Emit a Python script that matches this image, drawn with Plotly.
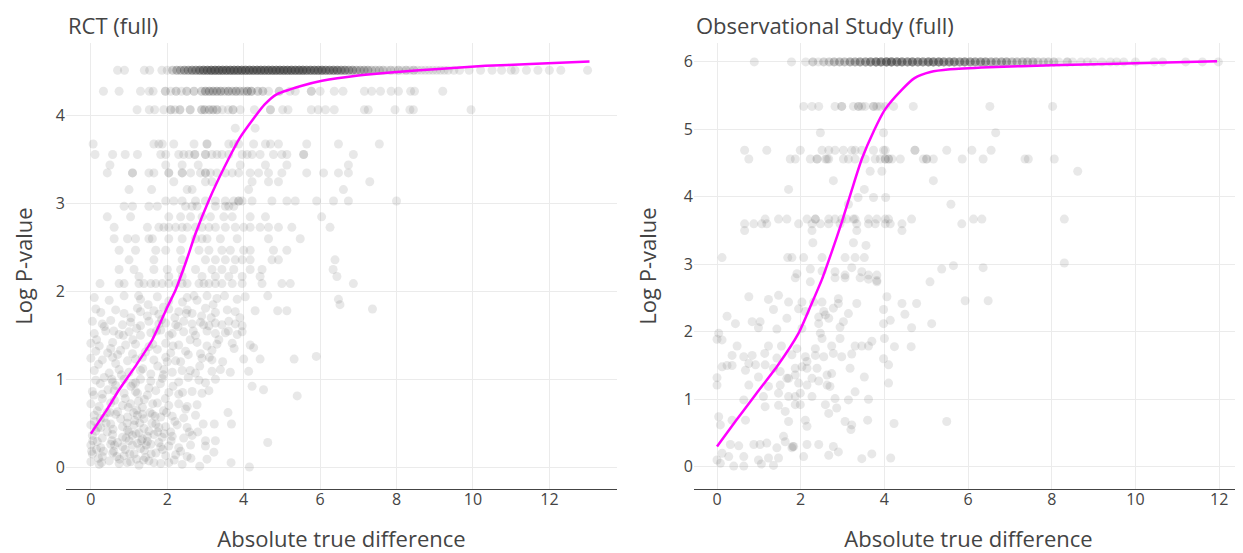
import numpy as np
import plotly.graph_objects as go

# ---------------- RCT (full) ----------------
# discrete top levels: x positions with multiplicities
rct_lvl1_y = 4.52
rct_lvl1_x = [0.70, 0.88, 1.40, 1.54, 1.86, 2.00, 2.14, 2.25, 2.35, 2.45, 2.55, 2.65, 2.75, 2.85, 2.95,
              3.05, 3.15, 3.25, 3.35, 3.45, 3.55, 3.65, 3.75, 3.85, 3.95, 4.05, 4.15, 4.25, 4.35, 4.45,
              4.55, 4.65, 4.75, 4.85, 4.95, 5.05, 5.15, 5.25, 5.35, 5.45, 5.55, 5.65, 5.75, 5.85, 5.95,
              6.05, 6.15, 6.25, 6.35, 6.45, 6.55, 6.65, 6.75, 6.85, 6.95, 7.05, 7.15, 7.25, 7.35, 7.45,
              7.55, 7.65, 7.75, 7.85, 7.95, 8.05, 8.15, 8.25, 8.35, 8.45, 8.55, 8.65, 8.75, 8.85, 8.95,
              9.05, 9.15, 9.25, 9.35, 9.50, 9.65, 9.90, 10.20, 10.50, 10.75, 11.00, 11.10, 11.40, 11.70,
              12.00, 12.30, 13.00]
rct_lvl1_n = [1, 1, 1, 1, 1, 1, 2, 3, 3, 4, 4, 5, 5, 6, 7,
              7, 8, 8, 8, 8, 8, 8, 8, 8, 8, 8, 8, 8, 8, 8,
              8, 8, 8, 8, 8, 8, 8, 8, 8, 8, 8, 7, 7, 7, 7,
              7, 6, 6, 6, 6, 5, 5, 4, 4, 3, 3, 3, 3, 2, 2,
              2, 2, 1, 2, 1, 2, 1, 2, 1, 2, 1, 1, 1, 1, 1,
              1, 1, 1, 1, 1, 1, 1, 1, 1, 1, 1, 1, 1, 1,
              1, 1, 1]

rct_lvl2_y = 4.28
rct_lvl2_x = [0.33, 0.74, 1.30, 1.53, 1.63, 1.95, 2.09, 2.23, 2.37, 2.51, 2.70, 2.90, 3.00, 3.10, 3.20,
              3.30, 3.40, 3.50, 3.60, 3.70, 3.80, 3.90, 4.00, 4.10, 4.20, 4.37, 4.50, 4.65, 4.93, 5.21,
              5.35, 5.77, 6.00, 6.37, 6.60, 7.16, 7.35, 7.58, 7.86, 8.05, 8.37, 8.47, 9.21]
rct_lvl2_n = [1, 1, 1, 1, 1, 2, 1, 2, 1, 2, 2, 2, 3, 3, 3,
              3, 3, 2, 3, 2, 3, 2, 2, 3, 3, 2, 2, 1, 2, 1,
              1, 2, 1, 1, 1, 1, 1, 1, 1, 1, 1, 1, 1]

rct_lvl3_y = 4.07
rct_lvl3_x = [1.21, 1.53, 1.67, 1.91, 2.09, 2.20, 2.33, 2.60, 2.90, 2.98, 3.10, 3.20, 3.30, 3.44, 3.60,
              3.72, 3.91, 4.28, 4.70, 5.02, 5.16, 5.77, 5.95, 6.14, 6.37, 7.16, 7.26, 7.96, 8.35, 8.44, 9.95]
rct_lvl3_n = [1, 1, 1, 1, 2, 1, 2, 2, 2, 2, 2, 2, 2, 1, 1,
              2, 1, 1, 2, 1, 1, 1, 1, 1, 1, 1, 1, 1, 1, 1, 1]

# middle rows: (y, [x ...])
rct_mid_rows = [
    (3.86, [3.78, 4.30]),
    (3.68, [0.06, 1.65, 1.78, 1.87, 2.17, 2.70, 3.04, 3.04, 3.61, 3.74, 3.87, 4.26, 4.57, 4.70, 4.91, 5.65, 6.48, 7.55]),
    (3.56, [0.11, 0.57, 0.90, 1.22, 1.83, 1.96, 2.30, 2.43, 2.57, 2.72, 2.72, 3.00, 3.00, 3.17, 3.30, 3.43, 3.61,
            3.96, 4.09, 4.22, 4.43, 4.78, 5.00, 5.13, 5.57, 5.57, 6.87]),
    (3.44, [0.50, 1.96, 2.39, 2.81, 3.91, 4.57, 5.13, 6.74]),
    (3.35, [0.43, 1.09, 1.09, 1.52, 1.65, 2.04, 2.04, 2.39, 2.39, 2.61, 2.87, 3.00, 3.00, 3.13, 3.30, 3.52, 3.70,
            3.87, 4.17, 4.39, 4.65, 5.00, 5.65, 6.09, 6.48, 6.74]),
    (3.25, [2.17, 3.00, 3.17, 4.22, 4.65, 4.91, 7.30]),
    (3.16, [1.00, 1.59, 2.52, 2.65, 4.13, 6.61]),
    (3.03, [1.96, 2.17, 2.39, 2.74, 3.00, 3.26, 3.52, 3.74, 3.87, 3.87, 3.96, 4.22, 4.74, 5.13, 5.35, 5.91, 6.35,
            6.74, 8.00]),
    (2.97, [0.87, 1.09, 1.52, 1.74, 2.48, 2.65, 2.78, 3.26, 3.52, 3.61, 3.74]),
    (2.85, [0.43, 1.04, 2.04, 2.35, 2.61, 2.91, 3.13, 3.48, 3.70, 4.17, 4.57, 6.04]),
    (2.73, [0.61, 1.48, 1.78, 1.91, 2.04, 2.22, 2.39, 2.52, 2.74, 2.91, 3.09, 3.26, 3.52, 3.78, 4.00, 4.17, 4.43,
            4.65, 4.91, 5.26, 6.26]),
    (2.60, [0.61, 0.96, 1.17, 1.52, 1.61, 2.04, 2.39, 2.74, 2.91, 3.04, 3.39, 3.83, 4.65, 5.48]),
    (2.47, [0.74, 1.17, 1.70, 1.96, 2.35, 2.83, 3.09, 3.43, 3.65, 4.00, 4.17, 4.78, 5.13]),
    (2.36, [1.00, 1.65, 2.39, 3.00, 3.26, 3.52, 3.78, 3.96, 4.17, 4.74, 4.91, 6.39]),
    (2.25, [0.74, 1.13, 1.65, 2.00, 2.35, 2.74, 3.17, 3.43, 3.74, 4.17, 4.48, 6.34]),
    (2.17, [1.26, 2.04, 2.39, 2.91, 3.26, 3.61, 3.96, 4.43, 6.44]),
    (2.09, [0.24, 0.74, 0.87, 1.26, 1.39, 1.57, 1.70, 1.87, 2.04, 2.22, 2.39, 2.52, 2.83, 2.96, 3.09, 3.26, 3.43,
            3.70, 3.96, 4.48, 5.00, 5.22, 6.87]),
]

# lower cluster: individual (x, y) observations
rct_low = [
    (0.09, 1.93), (0.48, 1.90), (0.87, 1.95), (1.30, 1.91), (1.74, 1.94), (2.04, 1.89), (2.52, 1.93), (2.78, 1.90),
    (3.04, 1.95), (3.30, 1.92), (3.83, 1.91), (4.04, 1.94), (4.63, 1.95), (6.48, 1.91), (6.52, 1.85),
    (0.13, 1.80), (0.26, 1.76), (0.65, 1.79), (0.87, 1.75), (1.22, 1.81), (1.30, 1.77), (1.65, 1.78), (1.78, 1.74),
    (2.04, 1.80), (2.30, 1.77), (2.52, 1.79), (2.65, 1.75), (3.00, 1.81), (3.26, 1.76), (3.57, 1.79), (3.78, 1.77),
    (4.30, 1.78), (4.89, 1.78), (5.13, 1.78), (7.37, 1.80),
    (0.04, 1.66), (0.30, 1.63), (0.52, 1.67), (0.83, 1.62), (1.04, 1.65), (1.30, 1.61), (1.52, 1.66), (1.78, 1.63),
    (1.96, 1.64), (2.22, 1.62), (2.43, 1.66), (2.65, 1.63), (2.87, 1.65), (3.09, 1.61), (3.26, 1.64), (3.43, 1.62),
    (3.61, 1.66), (3.78, 1.63), (3.96, 1.61),
    (0.09, 1.52), (0.39, 1.55), (0.74, 1.51), (1.00, 1.54), (1.30, 1.50), (1.57, 1.53), (1.83, 1.56), (2.13, 1.52),
    (2.43, 1.54), (2.74, 1.50), (3.04, 1.55), (3.26, 1.52), (3.52, 1.53), (3.83, 1.51), (3.96, 1.54),
    (0.00, 1.41), (0.22, 1.38), (0.57, 1.42), (0.91, 1.39), (1.17, 1.40), (1.52, 1.37), (1.96, 1.41), (2.30, 1.39),
    (2.78, 1.42), (3.04, 1.38), (3.30, 1.40), (3.70, 1.41), (4.17, 1.39), (4.26, 1.36),
    (0.13, 1.32), (0.44, 1.30), (0.78, 1.33), (1.09, 1.29), (1.43, 1.31), (1.74, 1.34), (2.09, 1.30), (2.48, 1.32),
    (2.87, 1.29), (3.17, 1.33),
    (0.00, 1.24), (0.30, 1.22), (0.57, 1.25), (0.96, 1.21), (1.17, 1.23), (1.65, 1.22), (1.96, 1.25), (2.22, 1.21),
    (2.91, 1.24), (3.17, 1.22), (4.00, 1.23), (4.43, 1.23), (5.32, 1.23), (5.90, 1.26),
    (0.09, 1.10), (0.48, 1.07), (0.74, 1.11), (1.00, 1.08), (1.30, 1.10), (1.57, 1.06), (1.91, 1.11), (2.13, 1.08),
    (2.39, 1.10), (2.74, 1.07), (3.17, 1.09), (3.39, 1.11), (3.65, 1.08), (4.13, 1.09),
    (0.13, 0.99), (0.57, 0.97), (0.87, 1.00), (1.17, 0.96), (1.57, 0.98), (1.87, 1.01), (2.30, 0.97), (2.83, 0.99),
    (3.00, 0.96), (3.26, 1.00), (4.22, 0.92), (4.52, 0.88),
    (0.04, 0.86), (0.30, 0.83), (0.61, 0.87), (0.87, 0.84), (1.17, 0.86), (1.48, 0.82), (1.70, 0.87), (2.04, 0.85),
    (2.30, 0.83), (2.65, 0.86), (2.91, 0.84), (3.09, 0.87), (5.40, 0.81),
    (0.00, 0.72), (0.22, 0.69), (0.52, 0.73), (0.83, 0.70), (1.04, 0.72), (1.35, 0.68), (1.74, 0.73), (2.04, 0.70),
    (2.30, 0.72), (2.52, 0.69), (2.78, 0.71),
    (0.17, 0.64), (0.70, 0.63), (1.20, 0.65), (1.55, 0.62), (1.90, 0.64),
    (0.09, 0.59), (0.35, 0.56), (0.65, 0.60), (0.96, 0.57), (1.22, 0.59), (1.39, 0.55), (1.61, 0.60), (1.83, 0.57),
    (2.13, 0.58), (2.43, 0.56), (2.74, 0.59), (3.59, 0.62),
    (0.00, 0.48), (0.26, 0.45), (0.52, 0.49), (0.83, 0.46), (1.13, 0.48), (1.39, 0.44), (1.70, 0.49), (1.96, 0.46),
    (2.26, 0.48), (2.52, 0.45), (2.94, 0.49), (3.23, 0.49), (3.68, 0.49),
    (0.13, 0.41), (0.43, 0.40), (0.96, 0.42), (1.26, 0.39), (1.52, 0.41), (2.09, 0.40),
    (0.04, 0.36), (0.30, 0.33), (0.57, 0.37), (0.83, 0.34), (1.09, 0.36), (1.35, 0.32), (1.65, 0.37), (1.87, 0.34),
    (2.13, 0.35), (2.43, 0.33), (2.65, 0.36), (3.00, 0.30), (3.26, 0.30),
    (0.17, 0.29), (0.70, 0.28), (1.00, 0.30), (1.22, 0.27), (1.48, 0.29), (1.78, 0.28),
    (0.00, 0.25), (0.26, 0.22), (0.52, 0.26), (0.83, 0.23), (1.09, 0.25), (1.30, 0.21), (1.57, 0.26), (1.83, 0.23),
    (2.04, 0.24), (2.30, 0.22), (2.61, 0.25), (3.00, 0.24), (3.22, 0.17), (4.63, 0.28),
    (0.04, 0.15), (0.30, 0.12), (0.57, 0.16), (0.87, 0.13), (1.13, 0.15), (1.43, 0.11), (1.70, 0.16), (1.96, 0.13),
    (2.22, 0.14), (2.52, 0.12), (3.04, 0.09),
    (0.00, 0.06), (0.22, 0.03), (0.48, 0.07), (0.74, 0.04), (1.04, 0.06), (1.26, 0.02), (1.52, 0.07), (1.83, 0.04),
    (2.04, 0.05), (2.39, 0.03), (2.85, 0.01), (3.67, 0.05), (4.15, 0.00),
    (0.10, 0.52), (0.40, 0.50), (0.60, 0.18), (0.90, 0.20), (1.15, 0.53), (1.40, 0.19), (1.60, 0.50), (0.20, 0.10),
    (0.75, 0.09), (1.20, 0.09), (1.35, 0.60), (0.50, 0.62), (0.30, 0.78), (0.90, 0.78), (1.40, 0.77), (0.65, 0.93),
    (1.05, 0.92), (0.35, 1.02), (1.30, 1.00), (1.75, 1.15), (0.20, 1.17), (0.65, 1.18), (2.05, 1.50), (2.60, 1.45),
    (2.20, 1.70), (1.50, 1.85), (2.90, 1.72), (2.35, 1.20), (2.60, 1.10), (1.10, 1.45), (0.60, 1.55), (1.90, 1.05),
    (0.25, 0.55), (0.55, 0.30), (0.95, 0.50), (1.45, 0.25), (1.75, 0.40), (0.15, 0.20), (1.00, 0.40), (1.25, 0.75),
    (0.05, 0.30), (0.18, 0.45), (0.33, 0.18), (0.42, 0.62), (0.58, 0.43), (0.68, 0.12), (0.78, 0.55), (0.92, 0.33),
    (1.02, 0.15), (1.12, 0.62), (1.18, 0.38), (1.28, 0.50), (1.38, 0.08), (1.48, 0.35), (1.58, 0.15), (1.68, 0.58),
    (1.78, 0.45), (1.88, 0.20), (1.98, 0.62), (2.10, 0.30), (2.20, 0.52), (2.35, 0.18), (2.48, 0.66), (2.58, 0.40),
    (0.08, 0.82), (0.25, 0.95), (0.45, 0.88), (0.62, 0.76), (0.80, 1.05), (0.98, 0.68), (1.10, 0.95), (1.22, 0.84),
    (1.36, 1.12), (1.52, 0.90), (1.62, 0.72), (1.82, 0.95), (1.95, 0.78), (2.15, 0.92), (2.40, 0.85), (2.55, 1.02),
    (0.15, 1.45), (0.35, 1.60), (0.52, 1.35), (0.70, 1.28), (0.85, 1.50), (1.05, 1.70), (1.20, 1.58), (1.35, 1.25),
    (1.48, 1.72), (1.62, 1.40), (1.72, 1.55), (1.90, 1.82), (2.00, 1.20), (2.15, 1.38), (2.28, 1.60), (2.40, 1.88),
    (2.55, 1.28), (2.68, 1.55), (2.85, 1.15), (2.95, 1.62), (3.10, 1.25), (3.20, 1.85), (3.35, 1.45), (3.45, 1.20),
    (3.60, 1.55), (3.75, 1.35), (3.90, 1.70), (0.02, 0.18), (0.28, 0.05), (0.62, 0.25), (0.95, 0.05), (1.32, 0.30),
    (1.65, 0.05), (1.92, 0.38), (2.18, 0.08), (2.62, 0.10), (2.80, 0.40), (0.55, 1.00), (1.25, 1.95), (1.85, 1.68),
    (2.50, 1.75), (2.70, 1.95), (3.15, 1.70), (3.50, 1.95),
]

# smoothed trend
rct_fit_x = [0.00, 0.40, 0.74, 1.20, 1.61, 2.00, 2.22, 2.50, 2.74, 3.09, 3.50, 3.90, 4.26, 4.55, 4.84,
             5.50, 6.05, 7.00, 8.00, 9.00, 10.33, 11.50, 13.05]
rct_fit_y = [0.38, 0.64, 0.88, 1.17, 1.45, 1.82, 2.02, 2.35, 2.66, 3.04, 3.42, 3.75, 3.97, 4.13, 4.24,
             4.34, 4.40, 4.46, 4.50, 4.53, 4.57, 4.59, 4.62]

# ---------------- Observational Study (full) ----------------
obs_lvl1_y = 6.0
obs_lvl1_x = [0.89, 1.78, 2.12, 2.29, 2.42, 2.55, 2.68, 2.80, 2.93, 3.05, 3.18, 3.30, 3.42, 3.55, 3.67,
              3.80, 3.92, 4.05, 4.17, 4.30, 4.42, 4.55, 4.67, 4.80, 4.92, 5.05, 5.17, 5.30, 5.42, 5.55,
              5.67, 5.80, 5.92, 6.05, 6.17, 6.30, 6.42, 6.55, 6.67, 6.80, 6.92, 7.05, 7.17, 7.30, 7.42,
              7.55, 7.67, 7.80, 7.92, 8.05, 8.17, 8.37, 8.50, 8.70, 8.85, 9.00, 9.20, 9.40, 9.55, 9.72,
              10.00, 10.45, 10.65, 11.20, 11.60, 11.98]
obs_lvl1_n = [1, 1, 1, 2, 1, 2, 2, 3, 3, 3, 4, 4, 5, 5, 6,
              7, 7, 8, 8, 7, 7, 6, 7, 6, 6, 7, 7, 7, 6, 6,
              6, 5, 6, 5, 5, 5, 5, 4, 4, 4, 4, 3, 3, 3, 3,
              3, 2, 2, 2, 2, 1, 2, 1, 1, 1, 1, 1, 1, 1, 1,
              1, 1, 1, 1, 1, 1]

obs_rows = [
    (5.34, [2.07, 2.27, 2.43, 2.82, 2.98, 2.98, 3.26, 3.38, 3.38, 3.46, 3.54, 3.74, 3.74, 3.82, 3.90, 4.02, 4.22,
            4.69, 6.52, 8.02]),
    (4.95, [2.47, 3.98, 6.66]),
    (4.69, [0.66, 1.19, 1.99, 2.51, 2.67, 2.82, 3.02, 3.22, 3.30, 3.46, 3.74, 3.98, 4.02, 4.73, 4.73, 5.49, 6.09,
            6.55]),
    (4.56, [0.76, 1.75, 1.87, 2.23, 2.39, 2.39, 2.59, 2.63, 2.67, 3.02, 3.14, 3.30, 3.54, 3.78, 3.90, 4.02, 4.02,
            4.10, 4.10, 4.18, 4.38, 4.93, 5.01, 5.01, 5.17, 5.86, 6.36, 7.36, 7.44, 8.06]),
    (4.38, [3.66, 3.94, 8.62]),
    (4.24, [2.78, 5.17]),
    (4.11, [1.71, 3.52]),
    (3.99, [3.37, 3.74, 4.03]),
    (3.89, [3.14, 5.59]),
    (3.67, [1.15, 1.47, 1.67, 2.15, 2.35, 2.35, 2.67, 2.82, 2.98, 3.10, 3.26, 3.30, 3.62, 3.82, 4.02, 4.10, 4.65,
            6.13, 6.33, 8.30]),
    (3.60, [0.66, 0.88, 1.07, 1.19, 1.95, 2.27, 2.47, 2.67, 2.94, 3.34, 3.62, 3.78, 4.02, 4.14, 4.42, 5.85]),
    (3.50, [0.66, 2.27, 3.34, 4.42]),
    (3.32, [2.29, 3.26]),
    (3.28, [3.56]),
    (3.10, [0.12, 1.69, 1.79, 2.07, 2.51, 3.06, 3.30, 3.52]),
    (3.02, [8.30]),
]

obs_low = [
    (3.22, 2.95), (5.65, 2.98), (6.36, 2.95), (5.37, 2.93), (2.23, 2.93), (2.51, 2.90),
    (1.87, 2.80), (2.82, 2.80), (3.06, 2.80), (3.42, 2.80), (3.62, 2.78), (3.82, 2.76),
    (1.91, 2.86), (2.23, 2.74), (2.82, 2.89), (3.06, 2.84), (3.46, 2.89), (3.62, 2.84), (3.82, 2.84), (3.82, 2.74),
    (5.09, 2.74),
    (0.76, 2.52), (1.23, 2.48), (1.47, 2.54), (1.71, 2.44), (1.35, 2.33), (1.95, 2.34), (2.11, 2.30), (2.03, 2.44),
    (2.31, 2.44), (2.51, 2.44), (2.55, 2.30), (2.90, 2.49), (2.90, 2.42), (3.34, 2.42), (4.06, 2.52), (4.42, 2.42),
    (4.77, 2.42), (5.93, 2.46), (6.48, 2.46), (3.98, 2.33), (4.49, 2.26), (3.14, 2.27), (2.78, 2.35), (2.59, 2.25),
    (2.67, 2.20), (2.43, 2.22), (0.24, 2.23), (0.44, 2.12), (0.84, 2.15), (1.03, 2.15), (0.99, 2.06), (1.43, 2.04),
    (1.67, 2.20), (2.03, 2.05), (2.43, 2.12), (2.47, 1.98), (2.51, 1.90), (2.94, 2.07), (3.02, 2.15), (4.14, 2.17),
    (3.98, 2.12), (4.65, 2.06), (5.13, 2.12),
    (0.04, 1.98), (0.00, 1.89), (0.12, 1.88), (0.48, 1.79), (1.23, 1.79), (1.54, 1.79), (1.91, 1.75), (2.35, 1.75),
    (2.74, 1.79), (2.94, 1.90), (3.30, 1.79), (3.46, 1.79), (3.62, 1.79), (3.70, 1.86), (4.00, 1.90), (4.24, 1.78),
    (4.64, 1.78),
    (0.36, 1.65), (0.64, 1.63), (0.84, 1.65), (1.14, 1.68), (1.43, 1.61), (1.79, 1.66), (2.11, 1.63), (2.15, 1.56),
    (2.35, 1.65), (2.55, 1.63), (2.78, 1.68), (2.98, 1.63), (3.22, 1.67), (3.98, 1.60), (4.10, 1.51),
    (0.12, 1.48), (0.24, 1.50), (0.36, 1.50), (0.68, 1.43), (0.76, 1.53), (0.92, 1.51), (1.15, 1.51), (1.35, 1.46),
    (1.51, 1.41), (1.71, 1.31), (1.87, 1.46), (2.03, 1.48), (2.15, 1.46), (2.39, 1.46), (2.63, 1.36), (2.74, 1.38),
    (3.18, 1.46), (3.52, 1.33),
    (0.00, 1.32), (0.00, 1.21), (0.76, 1.21), (0.99, 1.33), (1.23, 1.19), (1.51, 1.21), (1.67, 1.31), (1.87, 1.36),
    (1.95, 1.24), (2.15, 1.21), (2.27, 1.31), (2.43, 1.27), (2.63, 1.21), (2.70, 1.19), (4.10, 1.24),
    (0.64, 0.99), (1.11, 1.04), (1.47, 1.09), (1.71, 1.04), (1.87, 1.04), (1.99, 1.09), (2.27, 1.04), (2.82, 1.01),
    (3.14, 0.99), (3.30, 1.11), (3.62, 1.00),
    (0.04, 0.74), (0.08, 0.62), (0.36, 0.69), (0.68, 0.69), (1.15, 0.89), (1.47, 0.91), (1.63, 0.82), (1.71, 0.67),
    (1.87, 0.92), (1.99, 0.92), (2.11, 0.69), (2.15, 0.60), (2.59, 0.92), (2.67, 0.79), (2.86, 0.87), (3.06, 0.67),
    (3.22, 0.62), (3.20, 0.55), (3.60, 0.69), (4.23, 0.64), (5.49, 0.67),
    (0.32, 0.33), (0.52, 0.31), (0.88, 0.33), (1.03, 0.33), (1.19, 0.35), (1.43, 0.28), (1.59, 0.45), (1.63, 0.37),
    (1.79, 0.28), (1.83, 0.30), (1.81, 0.30), (2.15, 0.33), (2.43, 0.33), (2.78, 0.30), (2.90, 0.22), (2.67, 0.17),
    (0.00, 0.10), (0.08, 0.05), (0.12, 0.20), (0.28, 0.15), (0.40, 0.01), (0.64, 0.01), (0.64, 0.15), (0.99, 0.10),
    (1.06, 0.04), (1.23, 0.13), (1.35, 0.02), (1.47, 0.13), (2.07, 0.15), (3.46, 0.12), (3.70, 0.19), (4.15, 0.13),
]

obs_fit_x = [0.00, 0.45, 0.91, 1.45, 1.95, 2.25, 2.51, 2.75, 2.98, 3.22, 3.46, 3.75, 4.02, 4.42, 4.72,
             5.10, 5.57, 6.50, 8.00, 10.00, 11.95]
obs_fit_y = [0.30, 0.68, 1.06, 1.50, 1.98, 2.40, 2.78, 3.20, 3.62, 4.10, 4.56, 4.98, 5.30, 5.59, 5.76,
             5.85, 5.89, 5.92, 5.95, 5.98, 6.01]


def assemble(levels, rows, pairs):
    xs, ys = [], []
    for lx, ln, ly in levels:
        rep = np.repeat(lx, ln)
        xs.extend(rep.tolist())
        ys.extend([ly] * len(rep))
    for ry, rx in rows:
        xs.extend(rx)
        ys.extend([ry] * len(rx))
    for px, py in pairs:
        xs.append(px)
        ys.append(py)
    return xs, ys


rct_x, rct_y = assemble([(rct_lvl1_x, rct_lvl1_n, rct_lvl1_y),
                         (rct_lvl2_x, rct_lvl2_n, rct_lvl2_y),
                         (rct_lvl3_x, rct_lvl3_n, rct_lvl3_y)], rct_mid_rows, rct_low)
obs_x, obs_y = assemble([(obs_lvl1_x, obs_lvl1_n, obs_lvl1_y)], obs_rows, obs_low)

FONT = "Open Sans"
TXT = "#444444"
GRID = "#ebebeb"

fig = go.Figure()
marker = dict(color="#444444", size=9, opacity=0.12, line=dict(width=0))
fitline = dict(color="#ff00ff", width=2.5, shape="spline", smoothing=0.6)
fig.add_trace(go.Scatter(x=rct_x, y=rct_y, mode="markers", marker=marker, xaxis="x", yaxis="y", showlegend=False))
fig.add_trace(go.Scatter(x=rct_fit_x, y=rct_fit_y, mode="lines", line=fitline,
                         xaxis="x", yaxis="y", showlegend=False))
fig.add_trace(go.Scatter(x=obs_x, y=obs_y, mode="markers", marker=marker, xaxis="x2", yaxis="y2", showlegend=False))
fig.add_trace(go.Scatter(x=obs_fit_x, y=obs_fit_y, mode="lines", line=fitline,
                         xaxis="x2", yaxis="y2", showlegend=False))

# page has an 8px body margin, so the figure is 8px smaller than the window
W, H = 1235, 545
ydom = [64 / H, 510 / H]

xcommon = dict(showgrid=True, gridcolor=GRID, gridwidth=1, zeroline=False, showline=True, linecolor="#444444",
               linewidth=1, ticks="", dtick=2, tick0=0, automargin=False, ticklabelstandoff=-4,
               tickfont=dict(family=FONT, size=16, color=TXT),
               title=dict(text="Absolute true difference", font=dict(family=FONT, size=22, color=TXT), standoff=26))
ycommon = dict(showgrid=True, gridcolor=GRID, gridwidth=1, zeroline=False, showline=False, ticks="", dtick=1,
               tick0=0, automargin=False,
               tickfont=dict(family=FONT, size=16, color=TXT),
               title=dict(text="Log P-value", font=dict(family=FONT, size=22, color=TXT), standoff=21))

fig.update_layout(
    width=W, height=H,
    margin=dict(l=0, r=0, t=0, b=0),
    paper_bgcolor="white", plot_bgcolor="white",
    font=dict(family=FONT, color=TXT),
    xaxis=dict(domain=[58 / W, 609 / W], range=[-0.65, 13.77], anchor="y", **xcommon),
    yaxis=dict(domain=ydom, range=[-0.25, 4.83], anchor="x", **ycommon),
    xaxis2=dict(domain=[686 / W, 1.0], range=[-0.55, 12.57], anchor="y2", **xcommon),
    yaxis2=dict(domain=ydom, range=[-0.33, 6.28], anchor="x2", **ycommon),
    annotations=[
        dict(text="RCT (full)", x=58 / W, y=1.0, xref="paper", yref="paper", xanchor="left",
             yanchor="top", showarrow=False, font=dict(family=FONT, size=22, color=TXT)),
        dict(text="Observational Study (full)", x=686 / W, y=1.0, xref="paper", yref="paper",
             xanchor="left", yanchor="top", showarrow=False, font=dict(family=FONT, size=22, color=TXT)),
    ],
)

fig.write_html("out.html")
